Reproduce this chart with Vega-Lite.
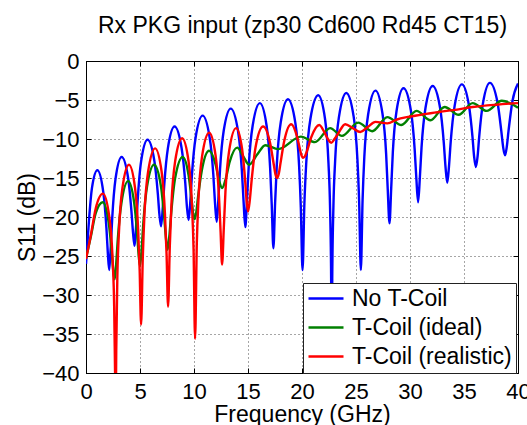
{
"$schema":"https://vega.github.io/schema/vega-lite/v6.json",
"width":432,"height":312,
"autosize":{"type":"none"},
"padding":{"left":86,"top":61,"right":9,"bottom":52},
"background":"white",
"config":{"font":"Liberation Sans","view":{"stroke":"black","strokeWidth":1},
"axis":{"domainColor":"black","tickColor":"black","labelColor":"black","titleColor":"black","labelFont":"Liberation Sans","titleFont":"Liberation Sans","titleFontWeight":"normal","gridColor":"#000","gridOpacity":0.7,"gridDash":[1,3],"gridWidth":1,"tickSize":-5,"labelFlush":false}},
"datasets":{
"blue":[
{"series":"No T-Coil","freq":0,"s11":-26},{"series":"No T-Coil","freq":0.15,"s11":-23},{"series":"No T-Coil","freq":0.3,"s11":-20},{"series":"No T-Coil","freq":0.55,"s11":-16.3},{"series":"No T-Coil","freq":1.05,"s11":-14.0},
{"series":"No T-Coil","freq":1.6,"s11":-16.8},{"series":"No T-Coil","freq":1.89,"s11":-21.4},{"series":"No T-Coil","freq":2.02,"s11":-24.6},{"series":"No T-Coil","freq":2.15,"s11":-26.8},{"series":"No T-Coil","freq":2.29,"s11":-23.9},{"series":"No T-Coil","freq":2.43,"s11":-20.1},{"series":"No T-Coil","freq":2.73,"s11":-15.15},{"series":"No T-Coil","freq":3.3,"s11":-12.3},
{"series":"No T-Coil","freq":3.9,"s11":-15.0},{"series":"No T-Coil","freq":4.21,"s11":-19.3},{"series":"No T-Coil","freq":4.36,"s11":-22.1},{"series":"No T-Coil","freq":4.5,"s11":-23.7},{"series":"No T-Coil","freq":4.64,"s11":-21.2},{"series":"No T-Coil","freq":4.79,"s11":-17.7},{"series":"No T-Coil","freq":5.1,"s11":-12.9},{"series":"No T-Coil","freq":5.7,"s11":-10.1},
{"series":"No T-Coil","freq":6.33,"s11":-12.8},{"series":"No T-Coil","freq":6.65,"s11":-17.0},{"series":"No T-Coil","freq":6.8,"s11":-19.7},{"series":"No T-Coil","freq":6.95,"s11":-21.2},{"series":"No T-Coil","freq":7.1,"s11":-19.0},{"series":"No T-Coil","freq":7.25,"s11":-15.8},{"series":"No T-Coil","freq":7.58,"s11":-11.2},{"series":"No T-Coil","freq":8.2,"s11":-8.4},
{"series":"No T-Coil","freq":8.85,"s11":-11.15},{"series":"No T-Coil","freq":9.19,"s11":-15.6},{"series":"No T-Coil","freq":9.34,"s11":-18.6},{"series":"No T-Coil","freq":9.5,"s11":-20.4},{"series":"No T-Coil","freq":9.66,"s11":-18.0},{"series":"No T-Coil","freq":9.81,"s11":-14.6},{"series":"No T-Coil","freq":10.15,"s11":-9.8},{"series":"No T-Coil","freq":10.8,"s11":-7.0},
{"series":"No T-Coil","freq":11.45,"s11":-9.8},{"series":"No T-Coil","freq":11.79,"s11":-14.6},{"series":"No T-Coil","freq":11.94,"s11":-18.1},{"series":"No T-Coil","freq":12.1,"s11":-20.6},{"series":"No T-Coil","freq":12.26,"s11":-17.7},{"series":"No T-Coil","freq":12.41,"s11":-13.9},{"series":"No T-Coil","freq":12.75,"s11":-8.95},{"series":"No T-Coil","freq":13.4,"s11":-6.1},
{"series":"No T-Coil","freq":14.08,"s11":-9.0},{"series":"No T-Coil","freq":14.43,"s11":-14.0},{"series":"No T-Coil","freq":14.59,"s11":-18.0},{"series":"No T-Coil","freq":14.75,"s11":-21.3},{"series":"No T-Coil","freq":14.91,"s11":-17.7},{"series":"No T-Coil","freq":15.07,"s11":-13.4},{"series":"No T-Coil","freq":15.43,"s11":-8.3},{"series":"No T-Coil","freq":16.1,"s11":-5.4},
{"series":"No T-Coil","freq":16.73,"s11":-8.36},{"series":"No T-Coil","freq":17.05,"s11":-13.7},{"series":"No T-Coil","freq":17.2,"s11":-18.5},{"series":"No T-Coil","freq":17.35,"s11":-24.0},{"series":"No T-Coil","freq":17.51,"s11":-18.2},{"series":"No T-Coil","freq":17.67,"s11":-13.25},{"series":"No T-Coil","freq":18.03,"s11":-7.87},{"series":"No T-Coil","freq":18.7,"s11":-4.9},
{"series":"No T-Coil","freq":19.38,"s11":-7.9},{"series":"No T-Coil","freq":19.73,"s11":-13.4},{"series":"No T-Coil","freq":19.89,"s11":-18.75},{"series":"No T-Coil","freq":20.05,"s11":-26.8},{"series":"No T-Coil","freq":20.22,"s11":-18.3},{"series":"No T-Coil","freq":20.4,"s11":-12.9},{"series":"No T-Coil","freq":20.78,"s11":-7.4},{"series":"No T-Coil","freq":21.5,"s11":-4.4},
{"series":"No T-Coil","freq":22.13,"s11":-7.4},{"series":"No T-Coil","freq":22.45,"s11":-13.05},{"series":"No T-Coil","freq":22.6,"s11":-18.9},{"series":"No T-Coil","freq":22.7,"s11":-28.2},{"series":"No T-Coil","freq":22.75,"s11":-42},{"series":"No T-Coil","freq":22.8,"s11":-27.9},{"series":"No T-Coil","freq":22.91,"s11":-18.6},{"series":"No T-Coil","freq":23.07,"s11":-12.75},{"series":"No T-Coil","freq":23.43,"s11":-7.1},{"series":"No T-Coil","freq":24.1,"s11":-4.1},
{"series":"No T-Coil","freq":24.78,"s11":-7.1},{"series":"No T-Coil","freq":25.13,"s11":-12.6},{"series":"No T-Coil","freq":25.29,"s11":-18.0},{"series":"No T-Coil","freq":25.45,"s11":-26.8},{"series":"No T-Coil","freq":25.61,"s11":-17.8},{"series":"No T-Coil","freq":25.77,"s11":-12.3},{"series":"No T-Coil","freq":26.13,"s11":-6.8},{"series":"No T-Coil","freq":26.8,"s11":-3.8},
{"series":"No T-Coil","freq":27.45,"s11":-6.73},{"series":"No T-Coil","freq":27.79,"s11":-11.9},{"series":"No T-Coil","freq":27.94,"s11":-16.5},{"series":"No T-Coil","freq":28.1,"s11":-20.8},{"series":"No T-Coil","freq":28.26,"s11":-16.3},{"series":"No T-Coil","freq":28.41,"s11":-11.7},{"series":"No T-Coil","freq":28.75,"s11":-6.44},{"series":"No T-Coil","freq":29.4,"s11":-3.5},
{"series":"No T-Coil","freq":30.08,"s11":-6.35},{"series":"No T-Coil","freq":30.43,"s11":-11.3},{"series":"No T-Coil","freq":30.59,"s11":-15.1},{"series":"No T-Coil","freq":30.75,"s11":-18.1},{"series":"No T-Coil","freq":30.91,"s11":-15.0},{"series":"No T-Coil","freq":31.07,"s11":-11.05},{"series":"No T-Coil","freq":31.43,"s11":-6.06},{"series":"No T-Coil","freq":32.1,"s11":-3.2},
{"series":"No T-Coil","freq":32.78,"s11":-5.97},{"series":"No T-Coil","freq":33.13,"s11":-10.5},{"series":"No T-Coil","freq":33.29,"s11":-13.6},{"series":"No T-Coil","freq":33.45,"s11":-15.6},{"series":"No T-Coil","freq":33.61,"s11":-13.5},{"series":"No T-Coil","freq":33.77,"s11":-10.35},{"series":"No T-Coil","freq":34.13,"s11":-5.78},{"series":"No T-Coil","freq":34.8,"s11":-3.0},
{"series":"No T-Coil","freq":35.45,"s11":-5.65},{"series":"No T-Coil","freq":35.79,"s11":-9.8},{"series":"No T-Coil","freq":35.94,"s11":-12.3},{"series":"No T-Coil","freq":36.1,"s11":-13.6},{"series":"No T-Coil","freq":36.26,"s11":-12.2},{"series":"No T-Coil","freq":36.41,"s11":-9.65},{"series":"No T-Coil","freq":36.75,"s11":-5.46},{"series":"No T-Coil","freq":37.4,"s11":-2.8},
{"series":"No T-Coil","freq":38.1,"s11":-5.3},{"series":"No T-Coil","freq":38.46,"s11":-9.05},{"series":"No T-Coil","freq":38.63,"s11":-11.1},{"series":"No T-Coil","freq":38.8,"s11":-12.1},{"series":"No T-Coil","freq":38.96,"s11":-11.0},{"series":"No T-Coil","freq":39.12,"s11":-9.0},{"series":"No T-Coil","freq":39.48,"s11":-5.2},{"series":"No T-Coil","freq":40,"s11":-2.9}
],
"green":[
{"series":"T-Coil (ideal)","freq":0,"s11":-25.3},{"series":"T-Coil (ideal)","freq":0.45,"s11":-22.5},{"series":"T-Coil (ideal)","freq":0.9,"s11":-19.5},{"series":"T-Coil (ideal)","freq":1.55,"s11":-18.1},
{"series":"T-Coil (ideal)","freq":2.1,"s11":-20.7},{"series":"T-Coil (ideal)","freq":2.39,"s11":-24.6},{"series":"T-Coil (ideal)","freq":2.52,"s11":-26.8},{"series":"T-Coil (ideal)","freq":2.65,"s11":-28},{"series":"T-Coil (ideal)","freq":2.8,"s11":-25.9},{"series":"T-Coil (ideal)","freq":2.95,"s11":-22.75},{"series":"T-Coil (ideal)","freq":3.28,"s11":-18.2},{"series":"T-Coil (ideal)","freq":3.9,"s11":-15.4},
{"series":"T-Coil (ideal)","freq":4.45,"s11":-18.06},{"series":"T-Coil (ideal)","freq":4.74,"s11":-22.25},{"series":"T-Coil (ideal)","freq":4.87,"s11":-24.8},{"series":"T-Coil (ideal)","freq":5.0,"s11":-26.3},{"series":"T-Coil (ideal)","freq":5.16,"s11":-24.0},{"series":"T-Coil (ideal)","freq":5.31,"s11":-20.75},{"series":"T-Coil (ideal)","freq":5.65,"s11":-16.1},{"series":"T-Coil (ideal)","freq":6.3,"s11":-13.3},
{"series":"T-Coil (ideal)","freq":6.93,"s11":-15.96},{"series":"T-Coil (ideal)","freq":7.25,"s11":-20.15},{"series":"T-Coil (ideal)","freq":7.4,"s11":-22.7},{"series":"T-Coil (ideal)","freq":7.55,"s11":-24.2},{"series":"T-Coil (ideal)","freq":7.72,"s11":-22.4},{"series":"T-Coil (ideal)","freq":7.89,"s11":-19.5},{"series":"T-Coil (ideal)","freq":8.25,"s11":-15.05},{"series":"T-Coil (ideal)","freq":8.95,"s11":-12.3},
{"series":"T-Coil (ideal)","freq":9.5,"s11":-14.67},{"series":"T-Coil (ideal)","freq":9.79,"s11":-17.95},{"series":"T-Coil (ideal)","freq":9.92,"s11":-19.57},{"series":"T-Coil (ideal)","freq":10.05,"s11":-20.3},{"series":"T-Coil (ideal)","freq":10.21,"s11":-19.4},{"series":"T-Coil (ideal)","freq":10.37,"s11":-17.5},{"series":"T-Coil (ideal)","freq":10.73,"s11":-13.97},{"series":"T-Coil (ideal)","freq":11.4,"s11":-11.5},
{"series":"T-Coil (ideal)","freq":12.0,"s11":-13.27},{"series":"T-Coil (ideal)","freq":12.31,"s11":-15.25},{"series":"T-Coil (ideal)","freq":12.6,"s11":-16.3},{"series":"T-Coil (ideal)","freq":12.94,"s11":-15.1},{"series":"T-Coil (ideal)","freq":13.3,"s11":-12.95},{"series":"T-Coil (ideal)","freq":14.0,"s11":-11.1},
{"series":"T-Coil (ideal)","freq":14.55,"s11":-12.2},{"series":"T-Coil (ideal)","freq":15.1,"s11":-13.3},{"series":"T-Coil (ideal)","freq":15.85,"s11":-12.0},{"series":"T-Coil (ideal)","freq":16.6,"s11":-10.8},{"series":"T-Coil (ideal)","freq":17.8,"s11":-11.3},{"series":"T-Coil (ideal)","freq":19.9,"s11":-9.7},{"series":"T-Coil (ideal)","freq":21.2,"s11":-10.4},{"series":"T-Coil (ideal)","freq":22.6,"s11":-8.6},{"series":"T-Coil (ideal)","freq":23.7,"s11":-9.6},{"series":"T-Coil (ideal)","freq":25.2,"s11":-7.9},{"series":"T-Coil (ideal)","freq":26.5,"s11":-9.0},{"series":"T-Coil (ideal)","freq":27.9,"s11":-7.2},{"series":"T-Coil (ideal)","freq":29.2,"s11":-8.2},{"series":"T-Coil (ideal)","freq":30.6,"s11":-6.4},{"series":"T-Coil (ideal)","freq":31.9,"s11":-7.6},{"series":"T-Coil (ideal)","freq":33.2,"s11":-5.9},{"series":"T-Coil (ideal)","freq":34.5,"s11":-6.9},{"series":"T-Coil (ideal)","freq":35.8,"s11":-5.4},{"series":"T-Coil (ideal)","freq":37.1,"s11":-6.4},{"series":"T-Coil (ideal)","freq":38.5,"s11":-5.1},{"series":"T-Coil (ideal)","freq":40,"s11":-6.0}
],
"red":[
{"series":"T-Coil (realistic)","freq":0,"s11":-25.4},{"series":"T-Coil (realistic)","freq":0.45,"s11":-22.3},{"series":"T-Coil (realistic)","freq":0.9,"s11":-18.9},{"series":"T-Coil (realistic)","freq":1.57,"s11":-17.0},
{"series":"T-Coil (realistic)","freq":2.16,"s11":-20.0},{"series":"T-Coil (realistic)","freq":2.47,"s11":-25.65},{"series":"T-Coil (realistic)","freq":2.61,"s11":-31.5},{"series":"T-Coil (realistic)","freq":2.7,"s11":-40.8},{"series":"T-Coil (realistic)","freq":2.75,"s11":-45},{"series":"T-Coil (realistic)","freq":2.8,"s11":-37.1},{"series":"T-Coil (realistic)","freq":2.9,"s11":-27.8},{"series":"T-Coil (realistic)","freq":3.05,"s11":-21.95},{"series":"T-Coil (realistic)","freq":3.37,"s11":-16.3},{"series":"T-Coil (realistic)","freq":3.98,"s11":-13.3},
{"series":"T-Coil (realistic)","freq":4.54,"s11":-16.27},{"series":"T-Coil (realistic)","freq":4.83,"s11":-21.7},{"series":"T-Coil (realistic)","freq":4.97,"s11":-26.9},{"series":"T-Coil (realistic)","freq":5.1,"s11":-33.8},{"series":"T-Coil (realistic)","freq":5.26,"s11":-25.1},{"series":"T-Coil (realistic)","freq":5.41,"s11":-19.7},{"series":"T-Coil (realistic)","freq":5.75,"s11":-14.2},{"series":"T-Coil (realistic)","freq":6.4,"s11":-11.2},
{"series":"T-Coil (realistic)","freq":7.0,"s11":-14.17},{"series":"T-Coil (realistic)","freq":7.31,"s11":-19.6},{"series":"T-Coil (realistic)","freq":7.46,"s11":-24.75},{"series":"T-Coil (realistic)","freq":7.6,"s11":-31.5},{"series":"T-Coil (realistic)","freq":7.76,"s11":-23.7},{"series":"T-Coil (realistic)","freq":7.91,"s11":-18.4},{"series":"T-Coil (realistic)","freq":8.25,"s11":-12.9},{"series":"T-Coil (realistic)","freq":8.9,"s11":-9.9},
{"series":"T-Coil (realistic)","freq":9.5,"s11":-12.9},{"series":"T-Coil (realistic)","freq":9.81,"s11":-18.5},{"series":"T-Coil (realistic)","freq":9.96,"s11":-24.1},{"series":"T-Coil (realistic)","freq":10.1,"s11":-35.6},{"series":"T-Coil (realistic)","freq":10.26,"s11":-23.4},{"series":"T-Coil (realistic)","freq":10.41,"s11":-17.8},{"series":"T-Coil (realistic)","freq":10.75,"s11":-12.2},{"series":"T-Coil (realistic)","freq":11.4,"s11":-9.2},
{"series":"T-Coil (realistic)","freq":12.0,"s11":-12.13},{"series":"T-Coil (realistic)","freq":12.31,"s11":-17.3},{"series":"T-Coil (realistic)","freq":12.46,"s11":-21.8},{"series":"T-Coil (realistic)","freq":12.6,"s11":-26.1},{"series":"T-Coil (realistic)","freq":12.76,"s11":-21.4},{"series":"T-Coil (realistic)","freq":12.91,"s11":-16.8},{"series":"T-Coil (realistic)","freq":13.25,"s11":-11.55},{"series":"T-Coil (realistic)","freq":13.9,"s11":-8.6},
{"series":"T-Coil (realistic)","freq":14.45,"s11":-11.25},{"series":"T-Coil (realistic)","freq":14.74,"s11":-15.4},{"series":"T-Coil (realistic)","freq":14.87,"s11":-17.9},{"series":"T-Coil (realistic)","freq":15.0,"s11":-19.3},{"series":"T-Coil (realistic)","freq":15.17,"s11":-17.8},{"series":"T-Coil (realistic)","freq":15.34,"s11":-15.25},{"series":"T-Coil (realistic)","freq":15.7,"s11":-11.06},{"series":"T-Coil (realistic)","freq":16.4,"s11":-8.4},
{"series":"T-Coil (realistic)","freq":17.05,"s11":-10.55},{"series":"T-Coil (realistic)","freq":17.39,"s11":-13.3},{"series":"T-Coil (realistic)","freq":17.54,"s11":-14.5},{"series":"T-Coil (realistic)","freq":17.7,"s11":-15.0},{"series":"T-Coil (realistic)","freq":17.86,"s11":-14.4},{"series":"T-Coil (realistic)","freq":18.01,"s11":-13.1},{"series":"T-Coil (realistic)","freq":18.35,"s11":-10.3},{"series":"T-Coil (realistic)","freq":19.0,"s11":-8.1},
{"series":"T-Coil (realistic)","freq":19.55,"s11":-9.74},{"series":"T-Coil (realistic)","freq":19.84,"s11":-11.5},{"series":"T-Coil (realistic)","freq":19.97,"s11":-12.17},{"series":"T-Coil (realistic)","freq":20.1,"s11":-12.4},{"series":"T-Coil (realistic)","freq":20.28,"s11":-12.2},{"series":"T-Coil (realistic)","freq":20.46,"s11":-11.55},{"series":"T-Coil (realistic)","freq":20.85,"s11":-9.8},{"series":"T-Coil (realistic)","freq":21.6,"s11":-8.2},
{"series":"T-Coil (realistic)","freq":22.15,"s11":-9.35},{"series":"T-Coil (realistic)","freq":22.44,"s11":-10.1},{"series":"T-Coil (realistic)","freq":22.7,"s11":-10.5},{"series":"T-Coil (realistic)","freq":23.01,"s11":-10.0},{"series":"T-Coil (realistic)","freq":23.35,"s11":-9.3},{"series":"T-Coil (realistic)","freq":24.0,"s11":-8.1},
{"series":"T-Coil (realistic)","freq":24.7,"s11":-8.6},{"series":"T-Coil (realistic)","freq":25.4,"s11":-9.1},{"series":"T-Coil (realistic)","freq":26.1,"s11":-8.45},{"series":"T-Coil (realistic)","freq":26.8,"s11":-7.8},{"series":"T-Coil (realistic)","freq":27.9,"s11":-8.0},{"series":"T-Coil (realistic)","freq":28.8,"s11":-7.5},{"series":"T-Coil (realistic)","freq":29.7,"s11":-7.2},{"series":"T-Coil (realistic)","freq":31.0,"s11":-6.9},{"series":"T-Coil (realistic)","freq":32.8,"s11":-6.5},{"series":"T-Coil (realistic)","freq":34.0,"s11":-6.3},{"series":"T-Coil (realistic)","freq":35.8,"s11":-5.9},{"series":"T-Coil (realistic)","freq":38.0,"s11":-5.6},{"series":"T-Coil (realistic)","freq":40,"s11":-5.4}
]
},
"layer":[
{"data":{"name":"blue"},"mark":{"type":"line","strokeWidth":2.4,"clip":true,"interpolate":"monotone"},
"encoding":{
"x":{"field":"freq","type":"quantitative","scale":{"domain":[0,40],"nice":false,"zero":false},
"axis":{"orient":"bottom","values":[0,5,10,15,20,25,30,35,40],"labelFontSize":22,"labelPadding":13,"title":"Frequency (GHz)","titleFontSize":23,"titleX":216,"titleY":48,"titleBaseline":"alphabetic","titleAlign":"center","grid":true}},
"y":{"field":"s11","type":"quantitative","scale":{"domain":[-40,0],"nice":false,"zero":false},
"axis":{"orient":"left","values":[-40,-35,-30,-25,-20,-15,-10,-5,0],"labelFontSize":22,"labelPadding":12,"title":"S11 (dB)","titleFontSize":23,"titleX":-52,"titleY":156,"titleAngle":-90,"titleBaseline":"alphabetic","titleAlign":"center","grid":true}},
"color":{"field":"series","type":"nominal","scale":{"domain":["No T-Coil","T-Coil (ideal)","T-Coil (realistic)"],"range":["#0000ff","#008000","#ff0000"]},
"legend":{"title":null,"orient":"none","legendX":217,"legendY":222,"symbolType":"stroke","symbolSize":1225,"symbolStrokeWidth":2.5,"clipHeight":23,"labelFontSize":23,"labelFont":"Liberation Sans","labelColor":"black","fillColor":"white","strokeColor":"#222","padding":4,"rowPadding":5,"labelOffset":7,"labelLimit":0}}}},
{"data":{"name":"green"},"mark":{"type":"line","strokeWidth":2.4,"clip":true,"interpolate":"monotone"},
"encoding":{"x":{"field":"freq","type":"quantitative","axis":null},"y":{"field":"s11","type":"quantitative","axis":null},"color":{"field":"series","type":"nominal"}}},
{"data":{"name":"red"},"mark":{"type":"line","strokeWidth":2.4,"clip":true,"interpolate":"monotone"},
"encoding":{"x":{"field":"freq","type":"quantitative","axis":null},"y":{"field":"s11","type":"quantitative","axis":null},"color":{"field":"series","type":"nominal"}}},
{"data":{"name":"red"},"mark":{"type":"point","opacity":0},
"encoding":{"x":{"field":"freq","type":"quantitative","axis":{"orient":"top","values":[0,5,10,15,20,25,30,35,40],"labels":false,"title":"Rx PKG input (zp30 Cd600 Rd45 CT15)","titleFontSize":23,"titleX":216,"titleY":-29,"titleBaseline":"alphabetic","titleAlign":"center","titleAngle":0,"grid":false}},
"y":{"field":"s11","type":"quantitative","axis":{"orient":"right","values":[-40,-35,-30,-25,-20,-15,-10,-5,0],"labels":false,"title":null,"grid":false}}}}
],
"resolve":{"axis":{"x":"independent","y":"independent"}}
}
